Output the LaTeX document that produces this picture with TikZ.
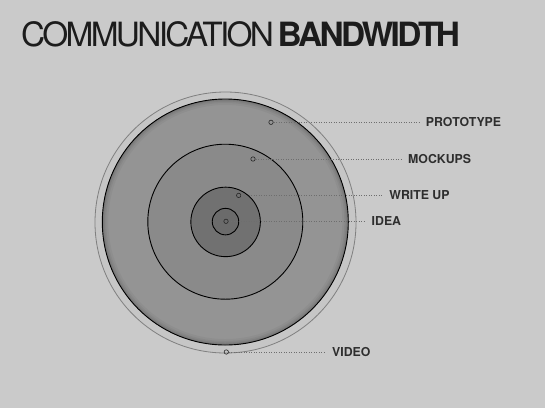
\documentclass[tikz,border=0pt]{standalone}
\usepackage{fontspec}
\setmainfont{TeX Gyre Heros}
\newfontfamily\titlefont[LetterSpace=-8]{TeX Gyre Heros}
\definecolor{bgcol}{HTML}{CACACA}
\definecolor{ringcol}{HTML}{C6C6C6}
\definecolor{protocol}{HTML}{949494}
\definecolor{mockcol}{HTML}{8A8A8A}
\definecolor{writecol}{HTML}{717171}
\definecolor{ideacol}{HTML}{6B6B6B}
\definecolor{titlecol}{HTML}{1C1C1C}
\definecolor{labelcol}{HTML}{2E2E2E}
\definecolor{leadcol}{HTML}{6E6E6E}
\begin{document}
\begin{tikzpicture}[x=1pt,y=-1pt,
  disc/.style={circle,inner sep=0pt,draw=black,line width=0.9pt},
  dotmark/.style={circle,inner sep=0pt,minimum size=4.4pt,draw=black!85,line width=0.6pt},
  lbl/.style={anchor=west,inner xsep=7pt,inner ysep=0pt,font=\bfseries\fontsize{12.3}{14}\selectfont,text=labelcol},
  leader/.style={draw=leadcol,line width=0.8pt,dash pattern=on 0.9pt off 1.6pt}]
\fill[bgcol] (0,0) rectangle (545,408);
\useasboundingbox (0,0) rectangle (545,408);
% title
\node[anchor=base west,inner sep=0pt,text=titlecol,font=\titlefont\fontsize{33.4}{36}\selectfont] (title) at (21,46.7)
  {COMMUNICATION\hspace{-3pt} \textbf{BANDWIDTH}};
% circles
\node[disc,draw=black!50,line width=0.8pt,fill=ringcol,minimum size=261pt] (video) at (225.5,222.5) {};
\node[disc,fill=protocol,minimum size=246pt] (proto) at (225.3,222) {};
\begin{scope}
  \clip (proto.center) circle (123pt);
  \foreach \w/\o in {12/0.035,8/0.045,5/0.06,2.5/0.08}{
    \draw[black,opacity=\o,line width=\w pt] (proto.center) circle (123pt);
  }
\end{scope}
\node[disc,fill=mockcol,minimum size=155pt] (mock) at (225.3,221.7) {};
\node[disc,fill=writecol,minimum size=69.5pt] (write) at (225.6,221.9) {};
\node[disc,fill=ideacol,minimum size=26.5pt] (idea) at (225.5,221.6) {};
% markers
\node[dotmark] (dproto) at (271,122.3) {};
\node[dotmark] (dmock) at (253,159) {};
\node[dotmark] (dwrite) at (238.7,195.4) {};
\node[dotmark] (didea) at (226,221.3) {};
\node[dotmark] (dvideo) at (226.3,352) {};
% labels
\node[lbl] (lproto) at (418.7,122.3) {PROTOTYPE};
\node[lbl] (lmock) at (401,159) {MOCKUPS};
\node[lbl] (lwrite) at (382.2,195.4) {WRITE UP};
\node[lbl] (lidea) at (364.5,221.3) {IDEA};
\node[lbl] (lvideo) at (325,352) {VIDEO};
% leaders
\draw[leader] (dproto.east) -- (lproto.west);
\draw[leader] (dmock.east) -- (lmock.west);
\draw[leader] (dwrite.east) -- (lwrite.west);
\draw[leader] (didea.east) -- (lidea.west);
\draw[leader] (dvideo.east) -- (lvideo.west);
\end{tikzpicture}
\end{document}
